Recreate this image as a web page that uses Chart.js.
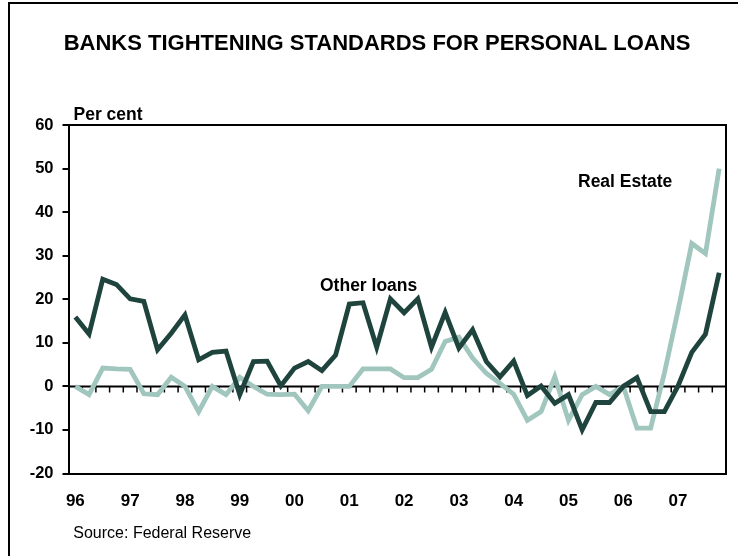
<!DOCTYPE html>
<html>
<head>
<meta charset="utf-8">
<script src="https://cdn.jsdelivr.net/npm/chart.js@4.4.1/dist/chart.umd.min.js"></script>
<style>
  html, body { margin: 0; padding: 0; background: #fff; }
  #wrap { width: 738px; height: 556px; }
</style>
</head>
<body>
<div id="wrap"><canvas id="c" width="738" height="556"></canvas></div>
<script>
// ---- Data (quarterly, 1996 Q1 – 2007 Q4) ----
const yearLabels = ['96','97','98','99','00','01','02','03','04','05','06','07'];
const quarters = [];
yearLabels.forEach(y => { for (let q = 1; q <= 4; q++) quarters.push(y + ' Q' + q); });

const otherLoans = [
  15.9, 12.0, 24.6, 23.4,
  20.1, 19.5, 8.4, 12.2,
  16.4, 6.1, 7.8, 8.1,
  -1.9, 5.7, 5.8, 0.1,
  4.2, 5.7, 3.6, 7.2,
  18.9, 19.2, 9.0, 20.1,
  16.9, 20.1, 9.0, 17.0,
  8.8, 13.0, 5.7, 2.2,
  5.8, -2.1, 0.1, -3.9,
  -1.9, -10.0, -3.7, -3.7,
  0.0, 2.0, -5.8, -5.8,
  0.1, 7.8, 12.0, 26.1
];
const realEstate = [
  0.0, -1.9, 4.2, 4.0,
  3.9, -1.7, -1.9, 2.1,
  0.0, -5.8, 0.0, -1.9,
  2.1, 0.0, -1.8, -1.9,
  -1.8, -5.6, 0.0, 0.0,
  0.0, 4.0, 4.0, 4.0,
  2.0, 2.0, 3.9, 10.3,
  11.3, 6.5, 3.0, 0.7,
  -1.8, -7.8, -5.8, 2.2,
  -7.8, -1.9, 0.0, -1.9,
  0.0, -9.6, -9.6, 3.0,
  17.5, 32.8, 30.5, 50.0
];
const yTicks = [-20, -10, 0, 10, 20, 30, 40, 50, 60];

const FONT = '"Liberation Sans", Arial, Helvetica, sans-serif';

const decor = {
  id: 'decor',
  beforeDraw(chart) {
    const ctx = chart.ctx;
    ctx.save();
    ctx.strokeStyle = '#000';
    ctx.lineWidth = 2;
    ctx.beginPath();
    ctx.moveTo(9, 556);
    ctx.lineTo(9, 3);
    ctx.lineTo(738, 3);
    ctx.stroke();
    ctx.restore();
  },
  beforeDatasetsDraw(chart) {
    const ctx = chart.ctx;
    const xs = chart.scales.x, ys = chart.scales.y;
    const a = chart.chartArea;
    const y0 = ys.getPixelForValue(0);
    ctx.save();
    ctx.strokeStyle = '#000';
    ctx.lineWidth = 2;
    ctx.beginPath();
    ctx.moveTo(a.left, y0);
    ctx.lineTo(a.right, y0);
    ctx.stroke();
    ctx.lineWidth = 1.5;
    ctx.beginPath();
    for (let i = 0; i < quarters.length - 1; i++) {
      const bx = (xs.getPixelForValue(i) + xs.getPixelForValue(i + 1)) / 2;
      ctx.moveTo(bx, y0);
      ctx.lineTo(bx, y0 + 6);
    }
    ctx.stroke();
    ctx.restore();
  },
  afterDraw(chart) {
    const ctx = chart.ctx;
    const a = chart.chartArea;
    ctx.save();
    ctx.strokeStyle = '#000';
    ctx.lineWidth = 2;
    ctx.beginPath();
    ctx.moveTo(a.left, a.top);
    ctx.lineTo(a.right, a.top);
    ctx.lineTo(a.right, a.bottom);
    ctx.stroke();

    ctx.fillStyle = '#000';
    ctx.textBaseline = 'alphabetic';
    ctx.textAlign = 'center';
    ctx.font = 'bold 22px ' + FONT;
    ctx.fillText('BANKS TIGHTENING STANDARDS FOR PERSONAL LOANS', 377, 50);

    ctx.textAlign = 'left';
    ctx.font = 'bold 17.5px ' + FONT;
    ctx.fillText('Per cent', 73.5, 119.5);
    ctx.fillText('Other loans', 320, 290.5);
    ctx.fillText('Real Estate', 578, 186.5);

    ctx.font = '16px ' + FONT;
    ctx.fillText('Source: Federal Reserve', 73.3, 538);
    ctx.restore();
  }
};

new Chart(document.getElementById('c'), {
  type: 'line',
  data: {
    labels: quarters,
    datasets: [
      {
        label: 'Other loans',
        data: otherLoans,
        borderColor: '#1f443e',
        borderWidth: 4.8,
        pointRadius: 0,
        tension: 0,
        fill: false,
        borderJoinStyle: 'miter'
      },
      {
        label: 'Real Estate',
        data: realEstate,
        borderColor: '#a0c6bd',
        borderWidth: 4.8,
        pointRadius: 0,
        tension: 0,
        fill: false,
        borderJoinStyle: 'miter'
      }
    ]
  },
  options: {
    responsive: false,
    animation: false,
    devicePixelRatio: 1,
    layout: { padding: { left: 0, right: 12, top: 125, bottom: 0 } },
    plugins: {
      legend: { display: false },
      title: { display: false },
      tooltip: { enabled: false }
    },
    scales: {
      x: {
        type: 'category',
        offset: true,
        grid: { display: false, drawTicks: false },
        border: { display: true, color: '#000', width: 2 },
        ticks: {
          autoSkip: false,
          maxRotation: 0,
          minRotation: 0,
          padding: 18,
          color: '#000',
          font: { family: FONT, size: 17, weight: 'bold' },
          callback: (v, i) => (i % 4 === 0 ? yearLabels[i / 4] : '')
        },
        afterFit: s => { s.height = 82.5; }
      },
      y: {
        min: -20,
        max: 60,
        afterBuildTicks: s => { s.ticks = yTicks.map(v => ({ value: v })); },
        grid: { drawOnChartArea: false, drawTicks: true, tickLength: 6, color: '#000', lineWidth: 2 },
        border: { display: true, color: '#000', width: 2 },
        ticks: {
          padding: 9,
          color: '#000',
          font: { family: FONT, size: 16.5, weight: 'bold' }
        },
        afterFit: s => { s.width = 68.5; }
      }
    }
  },
  plugins: [decor]
});
</script>
</body>
</html>
